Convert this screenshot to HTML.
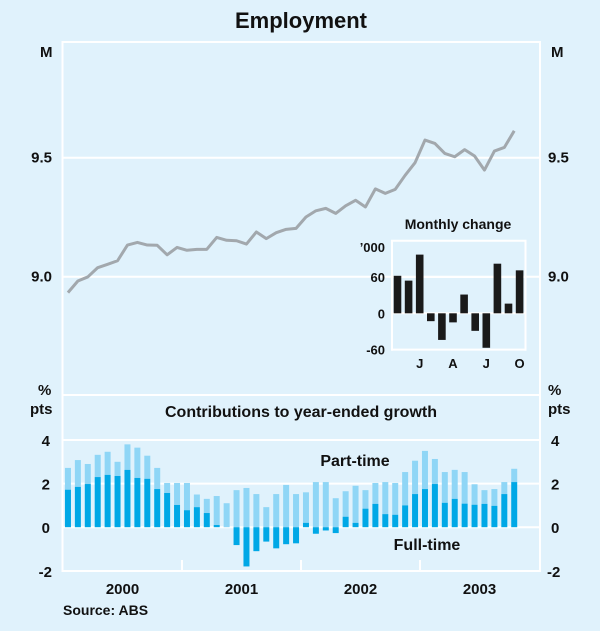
<!DOCTYPE html>
<html><head><meta charset="utf-8"><style>
body{margin:0;background:#e0f2fc}
svg{display:block;font-family:"Liberation Sans",Arial,sans-serif;font-weight:bold}
</style></head><body>
<svg id="c" width="600" height="631" viewBox="0 0 600 631">
<rect width="600" height="631" fill="#e0f2fc"/>
<text x="301" y="28" font-size="22" text-anchor="middle" fill="#111">Employment</text>
<g id="frame" stroke="#fff" stroke-width="2" fill="none"></g>
<g id="topPanel"></g>
<g id="inset"></g>
<g id="botPanel"></g>
<text x="63" y="615" font-size="14" fill="#111">Source: ABS</text>
</svg>
<script>
const employment=[8.933,8.982,8.999,9.038,9.052,9.067,9.133,9.144,9.133,9.132,9.092,9.123,9.111,9.115,9.115,9.165,9.153,9.151,9.137,9.188,9.160,9.185,9.199,9.203,9.251,9.277,9.287,9.266,9.298,9.321,9.293,9.369,9.350,9.367,9.426,9.479,9.574,9.560,9.518,9.504,9.534,9.507,9.448,9.528,9.543,9.613];
const fullTime=[1.72,1.85,1.98,2.3,2.4,2.35,2.63,2.26,2.22,1.75,1.57,1.02,0.78,0.92,0.65,0.1,0,-0.82,-1.8,-1.1,-0.66,-0.97,-0.78,-0.74,0.2,-0.3,-0.15,-0.27,0.48,0.2,0.85,1.07,0.6,0.57,1.0,1.52,1.75,1.98,1.12,1.3,1.08,1.03,1.07,0.98,1.52,2.07];
const partTime=[1.0,1.23,0.92,1.02,1.06,0.65,1.17,1.39,1.06,0.97,0.46,1.01,1.25,0.58,0.65,1.33,1.1,1.7,1.8,1.52,0.92,1.52,1.94,1.52,1.4,2.07,2.07,1.33,1.17,1.7,0.85,0.96,1.47,1.46,1.53,1.53,1.75,1.15,1.41,1.33,1.45,0.94,0.63,0.77,0.55,0.61];
const monthlyChange=[62,54,97,-13,-44,-15,31,-29,-57,82,16,71];
const insetLabels=["","","J","","","A","","","J","","","O"];
const topTicks=[9.0,9.5];
const botTicks=[4,2,0,-2];
const insetTicks=[60,0,-60];
const years=["2000","2001","2002","2003"];

const NS="http://www.w3.org/2000/svg";
function mk(p,t,a,txt){const e=document.createElementNS(NS,t);for(const k in a)e.setAttribute(k,a[k]);if(txt!==undefined)e.textContent=txt;p.appendChild(e);return e;}
const L=62.5,R=540,TOP=42,MID=395,BOT=571;
const mx=i=>63+9.917*(i+0.5);
const yTop=v=>276.7-(v-9.0)*238;
const yBot=v=>527.2-v*21.8;
const frame=document.getElementById('frame'),gTop=document.getElementById('topPanel'),gBot=document.getElementById('botPanel'),ins=document.getElementById('inset');

topTicks.forEach(t=>{
 const g=mk(gTop,'line',{x1:L,x2:R,y1:yTop(t),y2:yTop(t),stroke:'#fff','stroke-width':2});
 
 
 const a=mk(gTop,'text',{x:52,y:yTop(t)+5,'font-size':15,'text-anchor':'end',fill:'#111'},t.toFixed(1));
 
 
 const b=mk(gTop,'text',{x:548,y:yTop(t)+5,'font-size':15,fill:'#111'},t.toFixed(1));
 
 
});
[[40,'M','left-unit'],[551,'M','right-unit']].forEach(u=>{
 const e=mk(gTop,'text',{x:u[0],y:57,'font-size':15,fill:'#111'},u[1]);
 
 
});
const ln=mk(gTop,'polyline',{points:employment.map((v,i)=>mx(i)+','+yTop(v)).join(' '),fill:'none',stroke:'#a2a8ad','stroke-width':3,'stroke-linejoin':'round'});



const iL=392,iR=525.5,iT=240.7,iB=350.7;
const yIn=v=>313.3-v*0.605;
const ix=i=>iL+5.5+i*11.1;
mk(ins,'path',{d:`M${iL} ${iB}V${iT}H${iR}V${iB}`,stroke:'#fff','stroke-width':2,fill:'none'});
insetTicks.forEach(t=>{
 mk(ins,'line',{x1:iL,x2:iR,y1:yIn(t),y2:yIn(t),stroke:'#fff','stroke-width':2});
 const e=mk(ins,'text',{x:385,y:yIn(t)+5,'font-size':13,'text-anchor':'end',fill:'#111'},String(t));
 
 
});
let e=mk(ins,'text',{x:458,y:229,'font-size':14,'text-anchor':'middle',fill:'#111'},'Monthly change');

e=mk(ins,'text',{x:385,y:252,'font-size':13,'text-anchor':'end',fill:'#111'},'\u2019000');

monthlyChange.forEach((v,i)=>{
 const r=mk(ins,'rect',{x:ix(i)-3.8,width:7.6,y:Math.min(yIn(v),yIn(0)),height:Math.abs(yIn(v)-yIn(0)),fill:'#1a1a1a'});
 
 
 if(insetLabels[i]){const t=mk(ins,'text',{x:ix(i),y:368,'font-size':13,'text-anchor':'middle',fill:'#111'},insetLabels[i]);
 
 }
});

botTicks.forEach(t=>{
 if(t>-2){const g=mk(gBot,'line',{x1:L,x2:R,y1:yBot(t),y2:yBot(t),stroke:'#fff','stroke-width':2});
 }
 const a=mk(gBot,'text',{x:t<0?52:50,y:yBot(t)+6,'font-size':15,'text-anchor':'end',fill:'#111'},String(t));
 
 const b=mk(gBot,'text',{x:t<0?547:551,y:yBot(t)+6,'font-size':15,fill:'#111'},String(t));
 
});
[[44,'left'],[550,'right']].forEach(u=>{
 let a=mk(gBot,'text',{x:u[0]+(u[1]=='left'?-6:-2),y:395,'font-size':15,fill:'#111'},'%');
 
 a=mk(gBot,'text',{x:u[0]+(u[1]=='left'?-14:-2),y:414,'font-size':15,fill:'#111'},'pts');
 
});
e=mk(gBot,'text',{x:301,y:417,'font-size':16,'text-anchor':'middle',fill:'#111'},'Contributions to year-ended growth');

fullTime.forEach((f,i)=>{
 const base=Math.max(f,0);
 const p=mk(gBot,'rect',{x:mx(i)-3,width:6,y:yBot(base+partTime[i]),height:yBot(base)-yBot(base+partTime[i]),fill:'#8fd6f6'});
 
 const q=mk(gBot,'rect',{x:mx(i)-3,width:6,y:Math.min(yBot(f),yBot(0)),height:Math.abs(yBot(f)-yBot(0)),fill:'#00a8e6'});
 
});
e=mk(gBot,'text',{x:355,y:466,'font-size':16,'text-anchor':'middle',fill:'#111'},'Part-time');

e=mk(gBot,'text',{x:427,y:550,'font-size':16,'text-anchor':'middle',fill:'#111'},'Full-time');

years.forEach((y,i)=>{
 const t=mk(gBot,'text',{x:mx(i*12+5.5),y:594,'font-size':15,'text-anchor':'middle',fill:'#111'},y);
 
 if(i>0){const k=mk(gBot,'line',{x1:mx(i*12-0.5),x2:mx(i*12-0.5),y1:BOT,y2:BOT-11,stroke:'#fff','stroke-width':2});
 }
});
mk(frame,'path',{d:`M${L} ${BOT}V${TOP}H${R}V${BOT}Z`});
mk(frame,'line',{x1:L,x2:R,y1:MID,y2:MID});
</script>
</body></html>
